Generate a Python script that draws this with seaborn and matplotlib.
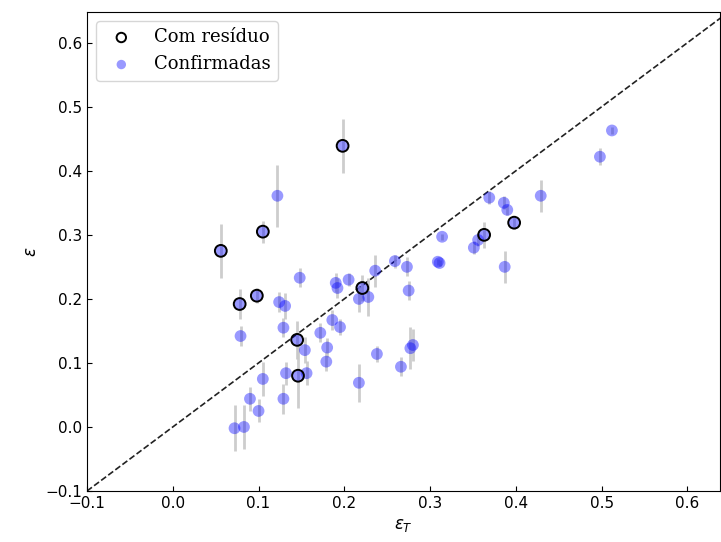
import numpy as np
import pandas as pd
import matplotlib
matplotlib.use("Agg")
import matplotlib.pyplot as plt
import seaborn as sns

# confirmed planets: eps_T, eps, error on eps
conf_epsT = [0.056, 0.078, 0.079, 0.072, 0.083, 0.090, 0.100, 0.098, 0.105, 0.105,
             0.122, 0.124, 0.131, 0.129, 0.129, 0.132, 0.145, 0.146, 0.148, 0.154,
             0.156, 0.172, 0.180, 0.179, 0.186, 0.195, 0.198, 0.190, 0.192, 0.205,
             0.217, 0.228, 0.221, 0.217, 0.236, 0.238, 0.259, 0.266, 0.273, 0.275,
             0.277, 0.280, 0.309, 0.311, 0.314, 0.351, 0.356, 0.363, 0.369, 0.386,
             0.390, 0.387, 0.398, 0.429, 0.498, 0.512]
conf_eps = [0.275, 0.192, 0.142, -0.002, 0.000, 0.044, 0.025, 0.205, 0.305, 0.075,
            0.361, 0.195, 0.189, 0.155, 0.044, 0.084, 0.136, 0.080, 0.233, 0.120,
            0.084, 0.147, 0.124, 0.102, 0.167, 0.156, 0.439, 0.225, 0.217, 0.230,
            0.200, 0.203, 0.217, 0.069, 0.244, 0.114, 0.259, 0.094, 0.250, 0.213,
            0.123, 0.128, 0.258, 0.256, 0.297, 0.280, 0.292, 0.300, 0.358, 0.350,
            0.339, 0.250, 0.319, 0.361, 0.422, 0.463]
conf_err = [0.042, 0.024, 0.016, 0.036, 0.034, 0.019, 0.018, 0.012, 0.017, 0.027,
            0.048, 0.015, 0.020, 0.015, 0.023, 0.018, 0.030, 0.050, 0.015, 0.020,
            0.019, 0.015, 0.015, 0.015, 0.015, 0.012, 0.042, 0.015, 0.015, 0.010,
            0.020, 0.030, 0.020, 0.030, 0.025, 0.012, 0.010, 0.015, 0.015, 0.015,
            0.033, 0.025, 0.005, 0.005, 0.005, 0.010, 0.010, 0.020, 0.010, 0.010,
            0.008, 0.025, 0.010, 0.025, 0.013, 0.005]

# planets with residuals
res_epsT = [0.056, 0.078, 0.098, 0.105, 0.198, 0.145, 0.146, 0.221, 0.363, 0.398]
res_eps = [0.275, 0.192, 0.205, 0.305, 0.439, 0.136, 0.080, 0.217, 0.300, 0.319]

conf = pd.DataFrame({"eps_T": conf_epsT, "eps": conf_eps, "err": conf_err})
res = pd.DataFrame({"eps_T": res_epsT, "eps": res_eps})

fig = plt.figure(figsize=(7.21, 5.42), dpi=100)
ax = fig.add_axes([87/721, 1 - 491/542, 633/721, 479/542])

ax.errorbar(conf["eps_T"], conf["eps"], yerr=conf["err"], fmt="none",
            ecolor="#c8c8c8", elinewidth=2, alpha=0.9, zorder=1)
sns.scatterplot(data=conf, x="eps_T", y="eps", color="blue", alpha=0.4, s=72,
                edgecolor="none", ax=ax, zorder=2)
sns.scatterplot(data=res, x="eps_T", y="eps", facecolor="none", edgecolor="black",
                linewidth=1.4, s=72, ax=ax, zorder=3)

lims = [-0.1, 0.645]
ax.plot(lims, lims, color="#222222", ls="--", lw=1.2, zorder=0)
ax.set_xlim(-0.1, 0.638)
ax.set_ylim(-0.1, 0.648)
ax.set_xticks(np.arange(-0.1, 0.61, 0.1))
ax.set_yticks(np.arange(-0.1, 0.61, 0.1))
ax.tick_params(direction="in", labelsize=11)
ax.set_xlabel(r"$\epsilon_T$", fontsize=12)
ax.set_ylabel(r"$\epsilon$", fontsize=12)

h1 = ax.scatter([], [], facecolor="none", edgecolor="black", linewidth=1.4, s=72)
h2 = ax.scatter([], [], color="blue", alpha=0.4, s=72, edgecolor="none")
ax.legend([h1, h2], ["Com resíduo", "Confirmadas"], loc="upper left",
          markerscale=0.8, prop={"family": "DejaVu Serif", "size": 13})

fig.savefig("out.png", dpi=100)
